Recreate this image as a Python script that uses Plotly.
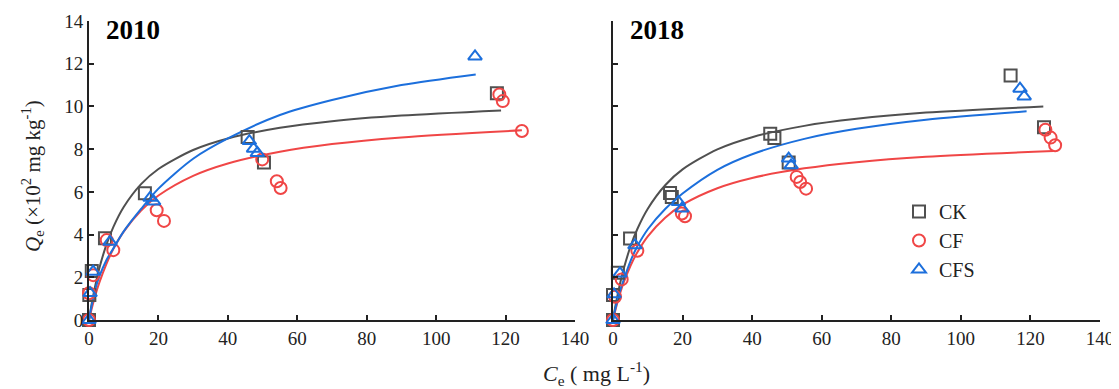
import plotly.graph_objects as go

# ---------------- observed data ----------------
# 2010
ck10_x = [0, 0.1, 0.8, 4.6, 16.1, 45.7, 50.4, 117.5]
ck10_y = [0, 1.17, 2.3, 3.83, 5.93, 8.57, 7.37, 10.62]
cf10_x = [0, 0, 1.2, 5.1, 7.0, 19.5, 21.6, 49.9, 54.1, 55.2, 118.2, 119.2, 124.7]
cf10_y = [0, 1.25, 2.1, 3.74, 3.27, 5.14, 4.64, 7.52, 6.5, 6.18, 10.56, 10.25, 8.85]
cfs10_x = [0, 0.3, 1.2, 6.05, 17.6, 18.6, 46.2, 47.4, 48.5, 111.2]
cfs10_y = [0, 1.26, 2.26, 3.66, 5.72, 5.55, 8.38, 8.02, 7.82, 12.34]

# 2018
ck18_x = [0, 0, 1.4, 4.9, 16.4, 16.9, 45.2, 46.4, 50.5, 114.3, 123.9]
ck18_y = [0, 1.17, 2.21, 3.82, 5.95, 5.76, 8.72, 8.52, 7.37, 11.45, 9.03]
cf18_x = [0, 0.6, 2.5, 7.0, 19.8, 20.7, 52.8, 53.8, 55.5, 124.3, 125.8, 127.1]
cf18_y = [0, 1.09, 1.9, 3.24, 4.99, 4.86, 6.70, 6.46, 6.15, 8.91, 8.54, 8.18]
cfs18_x = [0, 0.3, 2.0, 6.3, 18.8, 19.8, 50.5, 51.2, 117.0, 118.2]
cfs18_y = [0, 1.2, 2.18, 3.5, 5.53, 5.22, 7.56, 7.24, 10.83, 10.47]

# ---------------- fitted curves ----------------
ck10_fit_x = [0, 0.5, 1, 2, 3, 5, 7, 10, 15, 20, 30, 40, 55, 70, 90, 118.7]
ck10_fit_y = [0, 0.50, 0.96, 1.76, 2.44, 3.52, 4.35, 5.29, 6.36, 7.07, 7.96, 8.50, 9.00, 9.31, 9.57, 9.81]
cf10_fit_x = [0, 0.5, 1, 2, 3, 5, 7, 10, 15, 20, 30, 40, 55, 70, 90, 124.7]
cf10_fit_y = [0, 0.34, 0.67, 1.25, 1.76, 2.62, 3.32, 4.14, 5.13, 5.83, 6.75, 7.33, 7.88, 8.24, 8.55, 8.88]
cfs10_fit_x = [0, 0.5, 1, 2, 3, 5, 7, 10, 15, 20, 30, 40, 55, 70, 90, 111.4]
cfs10_fit_y = [0, 0.45, 0.85, 1.55, 2.05, 2.8, 3.35, 4.15, 5.2, 6.15, 7.55, 8.5, 9.6, 10.3, 11.0, 11.5]

ck18_fit_x = [0, 0.5, 1, 2, 3, 5, 7, 10, 15, 20, 30, 40, 55, 70, 90, 123.7]
ck18_fit_y = [0, 0.48, 0.92, 1.69, 2.35, 3.43, 4.26, 5.21, 6.31, 7.05, 7.99, 8.56, 9.09, 9.42, 9.71, 10.0]
cf18_fit_x = [0, 0.5, 1, 2, 3, 5, 7, 10, 15, 20, 30, 40, 55, 70, 90, 126.6]
cf18_fit_y = [0, 0.34, 0.66, 1.23, 1.72, 2.53, 3.17, 3.92, 4.79, 5.40, 6.17, 6.65, 7.10, 7.39, 7.64, 7.91]
cfs18_fit_x = [0, 0.5, 1, 2, 3, 5, 7, 10, 15, 20, 30, 40, 55, 70, 90, 118.9]
cfs18_fit_y = [0, 0.4, 0.75, 1.35, 1.85, 2.75, 3.45, 4.25, 5.2, 5.92, 7.03, 7.76, 8.48, 8.95, 9.38, 9.77]

series_names = ["CK", "CF", "CFS"]
colors = {"CK": "#505050", "CF": "#f04646", "CFS": "#1c6fdc"}
symbols = {"CK": "square-open", "CF": "circle-open", "CFS": "triangle-up-open"}

panels = [
    ("x", "y", {"CK": (ck10_x, ck10_y, ck10_fit_x, ck10_fit_y),
                "CF": (cf10_x, cf10_y, cf10_fit_x, cf10_fit_y),
                "CFS": (cfs10_x, cfs10_y, cfs10_fit_x, cfs10_fit_y)}, False),
    ("x2", "y2", {"CK": (ck18_x, ck18_y, ck18_fit_x, ck18_fit_y),
                  "CF": (cf18_x, cf18_y, cf18_fit_x, cf18_fit_y),
                  "CFS": (cfs18_x, cfs18_y, cfs18_fit_x, cfs18_fit_y)}, True),
]

FONT = "Liberation Serif, Times New Roman, serif"

fig = go.Figure()
for xa, ya, data, show in panels:
    for name in series_names:
        ox, oy, fx, fy = data[name]
        fig.add_trace(go.Scatter(
            x=fx, y=fy, mode="lines", xaxis=xa, yaxis=ya,
            line=dict(color=colors[name], width=2, shape="spline", smoothing=0.8),
            showlegend=False, hoverinfo="skip", cliponaxis=False))
    for name in series_names:
        ox, oy, fx, fy = data[name]
        fig.add_trace(go.Scatter(
            x=ox, y=oy, mode="markers", xaxis=xa, yaxis=ya, name=name,
            marker=dict(symbol=symbols[name], size=12, color=colors[name],
                        line=dict(width=2, color=colors[name])),
            showlegend=show, cliponaxis=False))

# page offset of the plot div (default body margin)
OFF = 8
W, H = 1119 - OFF, 389 - OFF
# target page coordinates of the plotting area
px_left, px_right, py_top, py_bottom = 89, 1100, 21, 320
L = px_left - OFF
T = py_top - OFF
R = W - (px_right - OFF)
B = H - (py_bottom - OFF)
pw = W - L - R
ph = H - T - B


def fx_(px):
    return (px - px_left) / pw


def fy_(py):
    return (py_bottom - py) / ph


left_end = fx_(575)
right_start = fx_(613)

axis_common = dict(
    showgrid=False, zeroline=False, showline=True, linecolor="#222222", linewidth=2,
    ticks="inside", ticklen=5, tickwidth=2, tickcolor="#222222",
    tickfont=dict(family=FONT, size=19, color="#222222"),
)

fig.update_layout(
    width=W, height=H,
    margin=dict(l=L, r=R, t=T, b=B, autoexpand=False),
    paper_bgcolor="white", plot_bgcolor="white",
    xaxis=dict(domain=[0, left_end], range=[0, 140], tickvals=[0, 20, 40, 60, 80, 100, 120, 140],
               anchor="y", **axis_common),
    yaxis=dict(domain=[0, 1], range=[0, 14], tickvals=[0, 2, 4, 6, 8, 10, 12, 14],
               anchor="x", **axis_common),
    xaxis2=dict(domain=[right_start, 1], range=[0, 140], tickvals=[0, 20, 40, 60, 80, 100, 120, 140],
                anchor="y2", **axis_common),
    yaxis2=dict(domain=[0, 1], range=[0, 14], tickvals=[0, 2, 4, 6, 8, 10, 12, 14],
                showticklabels=False, anchor="x2", **axis_common),
    legend=dict(x=fx_(899), y=fy_(192), xanchor="left", yanchor="top",
                font=dict(family=FONT, size=20, color="#222222"),
                bgcolor="rgba(0,0,0,0)", itemwidth=30, tracegroupgap=0),
    showlegend=True,
)

annotations = [
    dict(text="<b>2010</b>", x=fx_(104), y=fy_(30), xref="paper", yref="paper",
         xanchor="left", yanchor="middle", showarrow=False,
         font=dict(family=FONT, size=27, color="black")),
    dict(text="<b>2018</b>", x=fx_(628), y=fy_(30), xref="paper", yref="paper",
         xanchor="left", yanchor="middle", showarrow=False,
         font=dict(family=FONT, size=27, color="black")),
    dict(text="<i>Q</i><sub>e</sub> (×10<sup>2</sup> mg kg<sup>-1</sup>)",
         x=fx_(32), y=fy_(176), xref="paper", yref="paper",
         xanchor="center", yanchor="middle", textangle=-90, showarrow=False,
         font=dict(family=FONT, size=21, color="#222222")),
    dict(text="<i>C</i><sub>e</sub> ( mg L<sup>-1</sup>)",
         x=fx_(596), y=fy_(374), xref="paper", yref="paper",
         xanchor="center", yanchor="middle", showarrow=False,
         font=dict(family=FONT, size=22, color="#222222")),
]
fig.update_layout(annotations=annotations)

fig.write_html("out.html")
